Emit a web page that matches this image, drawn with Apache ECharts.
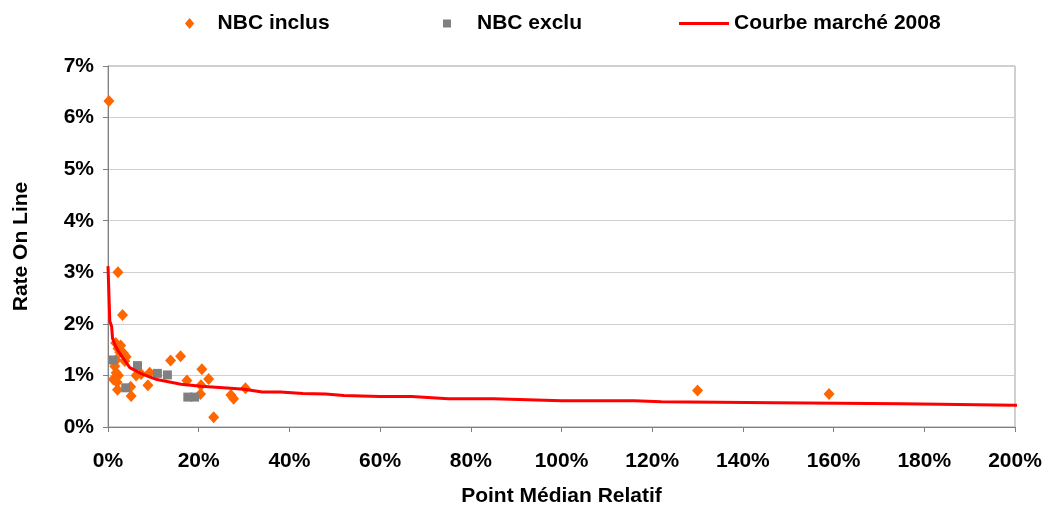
<!DOCTYPE html>
<html>
<head>
<meta charset="utf-8">
<script src="https://cdn.jsdelivr.net/npm/echarts@6.0.0/dist/echarts.min.js"></script>
<style>
  html, body { margin: 0; padding: 0; background: #fff; }
  #myChart { width: 1045px; height: 506px; }
</style>
</head>
<body>
<div id="myChart"></div>
<script>
  // valeurs (en %)
  var inclusX = [0.2, 2.2, 3.2, 1.7, 2.8, 2.2, 3.4, 4.0, 2.6, 3.7, 1.8, 1.5, 1.8, 2.3, 1.2, 2.0, 1.5, 2.1,
                 5.0, 5.1, 6.2, 7.3, 8.8, 9.2, 13.8, 16.0, 17.4, 20.5, 20.7, 20.4, 22.2, 23.3, 27.1, 27.7, 30.3,
                 130, 159];
  var inclusY = [6.32, 3.0, 2.17, 1.63, 1.58, 1.52, 1.43, 1.36, 1.45, 1.28, 1.3, 1.18, 1.05, 1.0, 0.92, 0.87, 0.95, 0.72,
                 0.78, 0.6, 1.0, 1.03, 0.81, 1.05, 1.29, 1.37, 0.9, 0.81, 1.12, 0.64, 0.93, 0.19, 0.62, 0.55, 0.75,
                 0.71, 0.64];

  var excluX = [1.0, 3.9, 6.5, 10.9, 13.1, 17.6, 19.1];
  var excluY = [1.3, 0.76, 1.19, 1.04, 1.01, 0.58, 0.58];

  var courbeX = [0, 0.4, 0.8, 1.0, 1.5, 2.2, 3.3, 4.8, 7.7, 10.8, 16.1, 20.5, 27, 30, 34, 38, 43, 48, 52,
                 60, 67, 75, 85, 100, 116, 122, 147, 175, 200, 202];
  var courbeY = [3.12, 2.05, 1.95, 1.72, 1.6, 1.48, 1.34, 1.15, 1.02, 0.92, 0.83, 0.79, 0.75, 0.73, 0.68, 0.68, 0.65, 0.64, 0.61,
                 0.59, 0.59, 0.55, 0.55, 0.51, 0.51, 0.49, 0.47, 0.45, 0.42, 0.42];

  function pairs(xs, ys) {
    var out = [];
    for (var i = 0; i < xs.length; i++) {
      out.push([xs[i], ys[i]]);
    }
    return out;
  }

  var font = 'Liberation Sans, Arial, sans-serif';
  var txt = {color: '#000', fontFamily: font, fontWeight: 'bold', fontSize: 21};
  var diamondPath = 'path://M5,0 L10,6 L5,12 L0,6 Z';
  var squarePath = 'path://M0,0 L8,0 L8,8 L0,8 Z';

  var myChart = echarts.init(document.getElementById('myChart'));
  myChart.setOption({
    animation: false,
    legend: [
      {
        data: [{name: 'NBC inclus', icon: diamondPath}],
        left: 180, top: 8, itemWidth: 46, itemHeight: 11,
        textStyle: txt
      },
      {
        data: [{name: 'NBC exclu', icon: squarePath}],
        left: 438, top: 8, itemWidth: 50, itemHeight: 8,
        textStyle: txt
      },
      {
        data: [{name: 'Courbe marché 2008', icon: 'rect'}],
        left: 674, top: 8, itemWidth: 50, itemHeight: 3,
        textStyle: txt
      }
    ],
    grid: {
      left: 108,
      right: 30,
      top: 66,
      bottom: 79,
      outerBoundsMode: 'none',
      show: true,
      borderColor: '#A0A0A0',
      borderWidth: 1
    },
    xAxis: {
      type: 'value',
      min: 0,
      max: 200,
      interval: 20,
      name: 'Point Médian Relatif',
      nameLocation: 'middle',
      nameGap: 59,
      nameTextStyle: txt,
      axisLine: {show: true, onZero: false, lineStyle: {color: '#808080'}},
      axisTick: {show: true, inside: false, length: 5, lineStyle: {color: '#808080'}},
      axisLabel: Object.assign({formatter: '{value}%', margin: 24}, txt),
      splitLine: {show: false}
    },
    yAxis: {
      type: 'value',
      min: 0,
      max: 7,
      interval: 1,
      name: 'Rate On Line',
      nameLocation: 'middle',
      nameGap: 76,
      nameTextStyle: txt,
      axisLine: {show: true, lineStyle: {color: '#808080'}},
      axisTick: {show: true, inside: false, length: 5, lineStyle: {color: '#808080'}},
      axisLabel: Object.assign({formatter: '{value}%', margin: 14}, txt),
      splitLine: {show: true, lineStyle: {color: '#CFCFCF', width: 1}}
    },
    series: [
      {
        name: 'NBC inclus',
        type: 'scatter',
        symbol: 'diamond',
        symbolSize: [11, 12],
        itemStyle: {color: '#FF6600', opacity: 1},
        data: pairs(inclusX, inclusY)
      },
      {
        name: 'NBC exclu',
        type: 'scatter',
        symbol: 'rect',
        symbolSize: 9,
        itemStyle: {color: '#808080', opacity: 1},
        data: pairs(excluX, excluY)
      },
      {
        name: 'Courbe marché 2008',
        type: 'line',
        showSymbol: false,
        symbol: 'none',
        clip: false,
        itemStyle: {color: '#FF0000'},
        lineStyle: {color: '#FF0000', width: 3},
        data: pairs(courbeX, courbeY)
      }
    ]
  });
</script>
</body>
</html>
